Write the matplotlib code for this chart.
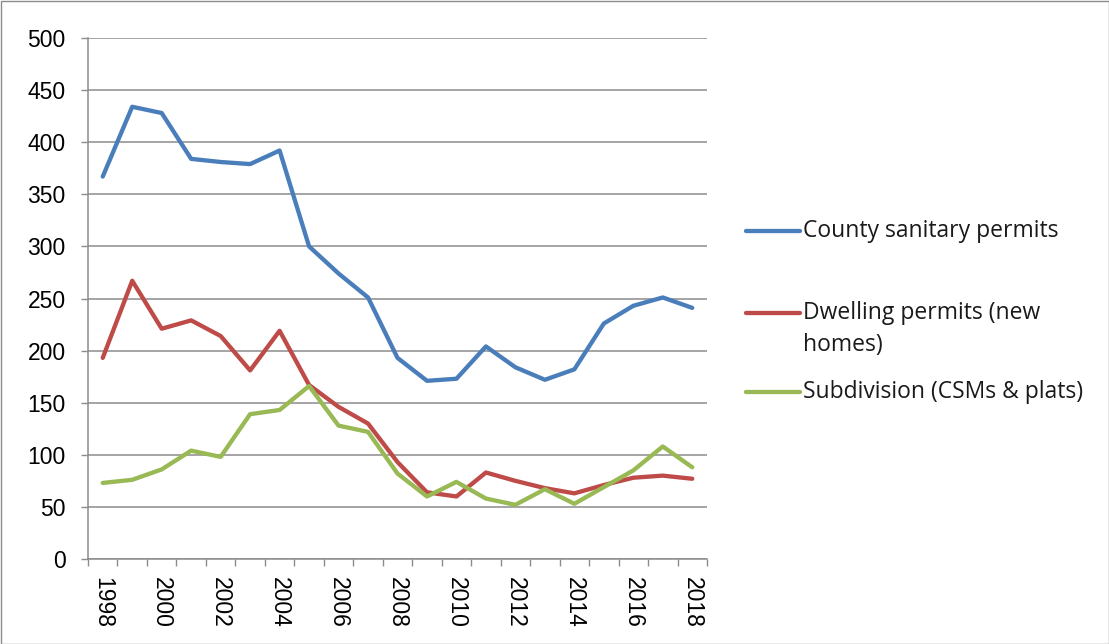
import matplotlib
matplotlib.use("Agg")
import matplotlib.pyplot as plt
from matplotlib.lines import Line2D
from matplotlib.patches import Rectangle

years = list(range(1998, 2019))
sanitary = [367, 434, 428, 384, 381, 379, 392, 300, 274, 251, 193, 171, 173, 204, 184, 172, 182, 226, 243, 251, 241]
dwelling = [193, 267, 221, 229, 214, 181, 219, 167, 146, 130, 93, 64, 60, 83, 75, 68, 63, 71, 78, 80, 77]
subdivision = [73, 76, 86, 104, 98, 139, 143, 166, 128, 122, 82, 60, 74, 58, 52, 67, 53, 69, 85, 108, 88]
labels = ["County sanitary permits", "Dwelling permits (new\nhomes)", "Subdivision (CSMs & plats)"]
colors = ["#4A7EBB", "#BE4B48", "#98B954"]

W, H = 1109, 644
fig = plt.figure(figsize=(W / 100, H / 100), dpi=100)
ax = fig.add_axes([88 / W, 1 - 559 / H, (707 - 88) / W, (559 - 38) / H])

x = list(range(len(years)))
for vals, c in zip([sanitary, dwelling, subdivision], colors):
    ax.plot(x, vals, color=c, lw=3.1, solid_joinstyle="round", solid_capstyle="round", zorder=3)

ax.set_xlim(-0.5, len(years) - 0.5)
ax.set_ylim(0, 500)
ax.set_yticks(range(0, 501, 50))
ax.yaxis.grid(True, color="#8C8C8C", lw=1.1)
ax.set_axisbelow(True)

ax.set_xticks([i + 0.5 for i in range(-1, len(years))], minor=False)
ax.set_xticklabels([])
ax.set_xticks(x[::2], minor=True)
ax.set_xticklabels([str(y) for y in years[::2]], minor=True, rotation=-90,
                   fontsize=16.5, family="Liberation Sans")
ax.tick_params(axis="x", which="major", length=5, width=1, color="#8C8C8C", direction="out")
ax.tick_params(axis="x", which="minor", length=0, pad=13)
ax.tick_params(axis="y", length=5, width=1, color="#8C8C8C", labelsize=16.5, pad=11)
for lab in ax.get_yticklabels():
    lab.set_family("Liberation Sans")

for s in ["top", "right"]:
    ax.spines[s].set_visible(False)
for s in ["left", "bottom"]:
    ax.spines[s].set_color("#8C8C8C")
    ax.spines[s].set_linewidth(1.1)

# legend (manual, Excel-style on the right)
leg_y = [231, 313, 392]
line_gap = 32
for y, c, lab in zip(leg_y, colors, labels):
    fig.add_artist(Line2D([746 / W, 800 / W], [1 - y / H, 1 - y / H], color=c, lw=3.1,
                          solid_capstyle="round"))
    for k, part in enumerate(lab.split("\n")):
        fig.text(803 / W, 1 - (y + k * line_gap) / H, part, fontsize=16.5,
                 family="Open Sans", va="center", ha="left", color="#1a1a1a")

fig.add_artist(Rectangle((0.5 / W, 0.5 / H), 1 - 1 / W, 1 - 1 / H, transform=fig.transFigure,
                         fill=False, edgecolor="#8C8C8C", lw=1))

fig.savefig("out.png", dpi=100)
